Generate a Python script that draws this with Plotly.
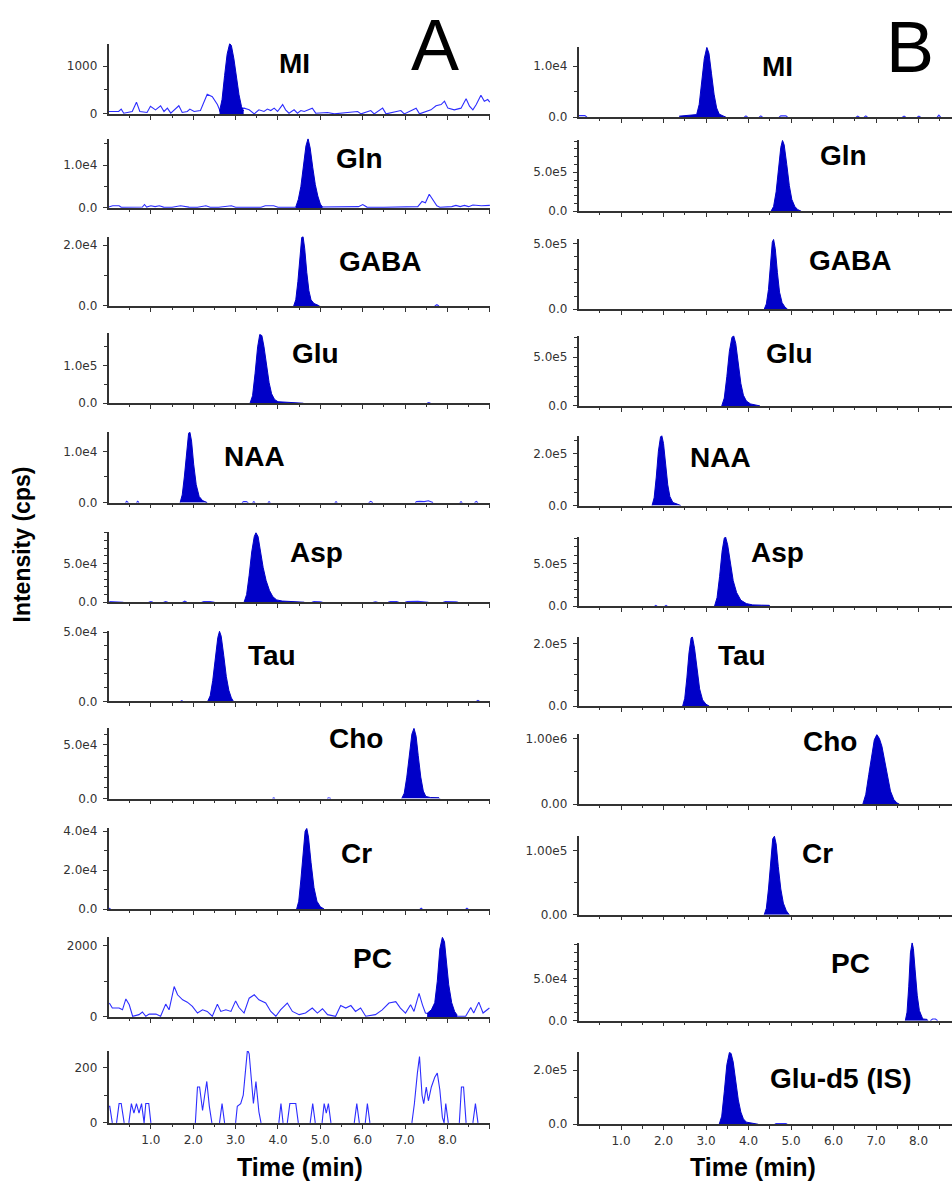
import plotly.graph_objects as go

W, H = 952, 1189

# ---------------- Panel A data: (time [min], intensity [cps]) ----------------
A_MI_peak = [(2.62, 50), (2.68, 300), (2.74, 800), (2.80, 1250), (2.86, 1470), (2.90, 1430),
             (2.96, 1150), (3.02, 750), (3.08, 400), (3.14, 150), (3.19, 60)]
A_MI_noise = [(0.01, 50), (0.13, 50), (0.24, 50), (0.30, 100), (0.36, 15), (0.56, 50), (0.66, 245),
              (0.74, 50), (0.91, 30), (0.99, 160), (1.11, 85), (1.23, 170), (1.31, 50), (1.39, 120),
              (1.47, 15), (1.66, 170), (1.74, 30), (1.86, 50), (1.92, 100), (2.02, 50), (2.17, 70),
              (2.33, 410), (2.45, 360), (2.57, 195), (2.63, 70), (3.20, 120), (3.32, 85), (3.44, 0),
              (3.55, 85), (3.67, 50), (3.75, 100), (3.83, 70), (3.91, 120), (3.99, 50), (4.11, 195),
              (4.18, 85), (4.26, 15), (4.38, 85), (4.46, 15), (4.54, 70), (4.62, 50), (4.81, 120),
              (4.89, 15), (5.17, 30), (5.33, 0), (5.64, 30), (5.88, 50), (5.96, 0), (6.19, 70),
              (6.27, 0), (6.47, 120), (6.55, 0), (6.90, 70), (6.98, 0), (7.26, 120), (7.34, 0),
              (7.61, 85), (7.73, 170), (7.85, 195), (7.93, 265), (8.01, 120), (8.16, 85), (8.32, 120),
              (8.44, 315), (8.52, 160), (8.60, 85), (8.68, 195), (8.79, 390), (8.87, 265), (8.95, 300),
              (9.00, 245)]

A_Gln_peak = [(4.42, 200), (4.48, 2000), (4.54, 5000), (4.60, 9500), (4.66, 14500), (4.71, 16200),
              (4.76, 14000), (4.82, 9500), (4.88, 5500), (4.94, 2800), (5.00, 900), (5.05, 200)]
A_Gln_noise = [(0.0, 200), (0.1, 500), (0.25, 500), (0.3, 150), (0.8, 200), (0.85, 800), (0.9, 200),
               (1.0, 500), (1.1, 300), (1.2, 500), (1.3, 200), (1.5, 150), (1.7, 500), (1.9, 200),
               (2.1, 150), (2.3, 500), (2.4, 150), (2.6, 150), (2.9, 500), (3.0, 150), (3.6, 150),
               (3.7, 500), (3.9, 500), (4.0, 150), (4.42, 150), (5.05, 200), (5.3, 150), (5.5, 300),
               (5.6, 150), (5.9, 300), (6.0, 800), (6.1, 200), (6.5, 150), (6.8, 200), (7.0, 150),
               (7.3, 300), (7.4, 1500), (7.48, 1200), (7.57, 3200), (7.65, 2000), (7.75, 500),
               (7.82, 150), (8.1, 300), (8.2, 600), (8.3, 300), (8.4, 600), (8.5, 300), (8.6, 700),
               (8.8, 500), (9.0, 600)]

A_GABA_peak = [(4.37, 0), (4.42, 2000), (4.47, 8000), (4.52, 17000), (4.56, 22500), (4.59, 23000),
               (4.63, 19000), (4.68, 11000), (4.73, 5000), (4.78, 2000), (4.85, 800), (4.95, 200),
               (4.98, 0)]
A_GABA_noise = [(7.70, 0), (7.75, 400), (7.80, 0)]

A_Glu_peak = [(3.34, 0), (3.40, 20000), (3.46, 80000), (3.52, 150000), (3.57, 183000), (3.62, 180000),
              (3.67, 150000), (3.73, 100000), (3.79, 55000), (3.85, 25000), (3.92, 10000), (4.0, 4000),
              (4.2, 2500), (4.4, 2000), (4.58, 1500), (4.6, 0)]
A_Glu_noise = [(7.52, 0), (7.56, 2000), (7.60, 0)]

A_NAA_peak = [(1.69, 0), (1.74, 1500), (1.79, 5000), (1.84, 10000), (1.89, 13500), (1.92, 13800),
              (1.96, 12000), (2.01, 7500), (2.07, 3500), (2.14, 1200), (2.22, 400), (2.33, 0)]
A_NAA_noise = [(0.40, 0), (0.43, 250), (0.47, 0), (0.66, 0), (0.69, 250), (0.72, 0), (3.15, 0),
               (3.19, 200), (3.25, 200), (3.3, 0), (3.4, 0), (3.43, 200), (3.46, 0), (3.76, 0),
               (3.79, 200), (3.82, 0), (5.34, 0), (5.37, 200), (5.40, 0), (6.14, 0), (6.19, 250),
               (6.24, 0), (7.24, 0), (7.27, 200), (7.35, 250), (7.45, 200), (7.55, 350), (7.62, 150),
               (7.66, 0), (8.29, 0), (8.32, 200), (8.35, 0), (8.64, 0), (8.68, 250), (8.72, 0)]

A_Asp_peak = [(3.20, 0), (3.26, 10000), (3.32, 35000), (3.38, 65000), (3.44, 85000), (3.48, 90000),
              (3.53, 85000), (3.59, 65000), (3.65, 45000), (3.72, 28000), (3.80, 15000), (3.88, 7000),
              (3.97, 3000), (4.1, 1500), (4.3, 800), (4.37, 1500), (4.45, 500), (4.6, 300), (4.62, 0)]
A_Asp_noise = [(0.02, 800), (0.1, 800), (0.2, 600), (0.3, 800), (0.35, 0), (0.95, 0), (1.0, 800),
               (1.05, 0), (1.3, 0), (1.35, 700), (1.4, 0), (1.75, 0), (1.8, 1300), (1.85, 0), (2.2, 0),
               (2.25, 700), (2.4, 800), (2.5, 0), (4.8, 0), (4.85, 800), (5.0, 600), (5.05, 0),
               (6.25, 0), (6.3, 600), (6.35, 0), (6.6, 0), (6.65, 900), (6.8, 800), (6.85, 0),
               (7.0, 0), (7.05, 800), (7.3, 1200), (7.5, 700), (7.55, 0), (7.9, 0), (7.95, 800),
               (8.2, 600), (8.25, 0)]

A_Tau_peak = [(2.34, 0), (2.40, 4000), (2.46, 15000), (2.52, 32000), (2.58, 46000), (2.62, 50500),
              (2.66, 47000), (2.72, 33000), (2.78, 18000), (2.84, 8000), (2.90, 2500), (2.95, 0)]
A_Tau_noise = [(1.70, 0), (1.73, 500), (1.76, 0), (8.68, 0), (8.72, 700), (8.76, 0)]

A_Cho_peak = [(6.92, 0), (6.98, 5000), (7.04, 20000), (7.10, 42000), (7.16, 60000), (7.21, 65500),
              (7.26, 58000), (7.31, 40000), (7.37, 20000), (7.43, 7000), (7.49, 2000), (7.6, 1000),
              (7.8, 800), (7.82, 0)]
A_Cho_noise = [(3.87, 0), (3.90, 600), (3.93, 0), (5.16, 0), (5.20, 800), (5.25, 0)]

A_Cr_peak = [(4.44, 0), (4.49, 4000), (4.54, 15000), (4.59, 30000), (4.64, 40000), (4.68, 41500),
             (4.72, 37000), (4.78, 24000), (4.85, 11000), (4.92, 4000), (5.00, 1200), (5.09, 0)]
A_Cr_noise = [(0.0, 500), (0.05, 0), (7.35, 0), (7.38, 500), (7.41, 0), (8.43, 0), (8.46, 500), (8.49, 0)]

A_PC_peak = [(7.52, 100), (7.62, 200), (7.70, 400), (7.76, 1000), (7.82, 1900), (7.88, 2230),
             (7.93, 2100), (7.98, 1500), (8.03, 900), (8.10, 400), (8.17, 150), (8.23, 50)]
A_PC_noise = [(0.02, 390), (0.09, 250), (0.25, 250), (0.33, 200), (0.41, 505), (0.49, 340), (0.57, 20),
              (0.72, 65), (0.80, 140), (0.88, 20), (0.96, 80), (1.12, 80), (1.23, 20), (1.35, 360),
              (1.43, 200), (1.55, 850), (1.63, 620), (1.75, 480), (1.86, 415), (1.98, 295), (2.10, 110),
              (2.22, 200), (2.33, 155), (2.45, 20), (2.57, 360), (2.65, 155), (2.77, 200), (2.89, 155),
              (3.00, 450), (3.08, 265), (3.20, 110), (3.32, 525), (3.44, 620), (3.55, 480), (3.71, 390),
              (3.83, 155), (3.95, 20), (4.06, 200), (4.22, 390), (4.34, 155), (4.50, 65), (4.65, 110),
              (4.81, 250), (4.93, 110), (5.05, 230), (5.17, 65), (5.36, 20), (5.48, 320), (5.60, 250),
              (5.72, 320), (5.83, 155), (5.95, 250), (6.07, 20), (6.30, 65), (6.46, 200), (6.62, 390),
              (6.78, 430), (6.89, 250), (7.01, 110), (7.13, 340), (7.21, 155), (7.33, 660), (7.41, 340),
              (7.48, 110), (7.52, 100), (8.23, 20), (8.43, 20), (8.55, 265), (8.62, 110), (8.74, 415),
              (8.84, 110), (8.94, 200), (8.99, 250)]

A_blank_noise = [(0.00, 60), (0.03, 60), (0.06, 30), (0.09, 0), (0.19, 0), (0.25, 70), (0.30, 70),
                 (0.37, 0), (0.48, 0), (0.54, 70), (0.60, 35), (0.66, 70), (0.72, 35), (0.78, 70),
                 (0.84, 0), (0.88, 70), (0.95, 70), (1.00, 0), (2.05, 0), (2.10, 130), (2.15, 130),
                 (2.22, 45), (2.27, 100), (2.32, 150), (2.38, 60), (2.44, 0), (2.62, 0), (2.68, 70),
                 (2.74, 0), (3.00, 0), (3.04, 60), (3.12, 70), (3.18, 100), (3.24, 200), (3.28, 265),
                 (3.32, 250), (3.38, 130), (3.42, 70), (3.48, 150), (3.55, 40), (3.60, 0), (4.02, 0),
                 (4.07, 70), (4.12, 0), (4.22, 0), (4.28, 70), (4.42, 70), (4.48, 0), (4.76, 0),
                 (4.82, 70), (4.88, 0), (5.04, 0), (5.09, 70), (5.14, 35), (5.19, 70), (5.25, 0),
                 (5.80, 0), (5.86, 70), (5.92, 0), (6.06, 0), (6.11, 70), (6.17, 0), (7.16, 0),
                 (7.22, 70), (7.29, 180), (7.34, 240), (7.40, 100), (7.44, 70), (7.50, 130), (7.55, 80),
                 (7.62, 130), (7.70, 165), (7.76, 180), (7.82, 120), (7.88, 20), (7.92, 0), (7.96, 70),
                 (8.02, 0), (8.28, 0), (8.33, 130), (8.38, 130), (8.44, 0), (8.60, 0), (8.66, 70),
                 (8.72, 0), (9.00, 0)]

# ---------------- Panel B data ----------------
B_MI_peak = [(2.37, 200), (2.50, 300), (2.65, 300), (2.78, 500), (2.84, 2500), (2.90, 7000),
             (2.96, 11500), (3.02, 13700), (3.07, 12500), (3.13, 8500), (3.19, 4500), (3.25, 1800),
             (3.31, 600), (3.40, 250), (3.47, 0)]
B_MI_noise = [(0, 300), (0.15, 300), (0.2, 0), (3.9, 0), (3.94, 250), (3.98, 0), (4.25, 0), (4.29, 250),
              (4.33, 0), (4.72, 0), (4.76, 250), (4.88, 250), (4.92, 0), (6.53, 0), (6.57, 200),
              (6.61, 0), (6.72, 0), (6.76, 250), (6.8, 0), (7.62, 0), (7.66, 200), (7.7, 0), (7.97, 0),
              (8.01, 200), (8.05, 0), (8.44, 0), (8.48, 400), (8.52, 0)]
B_Gln_peak = [(4.53, 0), (4.59, 60000), (4.65, 250000), (4.71, 550000), (4.76, 820000), (4.80, 910000),
              (4.84, 850000), (4.90, 600000), (4.96, 330000), (5.02, 150000), (5.09, 60000),
              (5.16, 20000), (5.24, 0)]
B_GABA_peak = [(4.37, 0), (4.42, 40000), (4.47, 150000), (4.52, 380000), (4.56, 510000), (4.59, 532000),
               (4.63, 460000), (4.68, 280000), (4.73, 130000), (4.79, 50000), (4.86, 15000), (4.92, 0)]
B_Glu_peak = [(3.37, 0), (3.43, 80000), (3.49, 300000), (3.55, 560000), (3.61, 700000), (3.65, 720000),
              (3.70, 640000), (3.76, 430000), (3.82, 230000), (3.88, 110000), (3.95, 50000),
              (4.05, 20000), (4.15, 12000), (4.25, 8000), (4.27, 0)]
B_NAA_peak = [(1.73, 0), (1.78, 30000), (1.83, 110000), (1.88, 210000), (1.93, 265000), (1.96, 270000),
              (2.00, 240000), (2.05, 160000), (2.10, 80000), (2.15, 35000), (2.22, 12000), (2.32, 6000),
              (2.41, 0)]
B_Asp_peak = [(3.20, 0), (3.26, 100000), (3.32, 350000), (3.38, 650000), (3.43, 800000), (3.46, 814000),
              (3.51, 720000), (3.57, 500000), (3.64, 300000), (3.72, 160000), (3.82, 70000),
              (3.95, 30000), (4.1, 15000), (4.3, 12000), (4.49, 10000), (4.5, 0)]
B_Asp_noise = [(1.79, 0), (1.82, 8000), (1.85, 0), (2.03, 0), (2.06, 10000), (2.09, 0)]
B_Tau_peak = [(2.45, 0), (2.50, 25000), (2.55, 90000), (2.60, 170000), (2.65, 218000), (2.68, 221000),
              (2.73, 185000), (2.79, 110000), (2.85, 55000), (2.92, 20000), (3.00, 6000), (3.08, 0)]
B_Cho_peak = [(6.69, 0), (6.76, 150000), (6.83, 450000), (6.90, 780000), (6.96, 980000), (7.02, 1060000),
              (7.08, 1000000), (7.14, 880000), (7.20, 680000), (7.27, 420000), (7.34, 200000),
              (7.42, 70000), (7.49, 20000), (7.55, 0)]
B_Cr_peak = [(4.37, 0), (4.42, 10000), (4.47, 40000), (4.52, 85000), (4.57, 118000), (4.61, 122000),
             (4.65, 110000), (4.70, 75000), (4.76, 40000), (4.82, 18000), (4.89, 6000), (4.96, 0)]
B_PC_peak = [(7.69, 0), (7.73, 10000), (7.77, 40000), (7.81, 80000), (7.85, 92000), (7.88, 85000),
             (7.92, 60000), (7.97, 30000), (8.02, 12000), (8.07, 5000), (8.10, 2000), (8.2, 1500),
             (8.22, 0)]
B_PC_noise = [(8.28, 0), (8.33, 2000), (8.40, 2000), (8.45, 0)]
B_GluD5_peak = [(3.31, 0), (3.37, 30000), (3.43, 120000), (3.49, 220000), (3.55, 265000), (3.59, 262000),
                (3.64, 230000), (3.70, 160000), (3.76, 90000), (3.82, 45000), (3.88, 20000),
                (3.95, 8000), (4.10, 4000), (4.22, 3000), (4.23, 0)]
B_GluD5_noise = [(4.62, 0), (4.65, 3000), (4.88, 3000), (4.91, 0)]

compounds_A = ["MI", "Gln", "GABA", "Glu", "NAA", "Asp", "Tau", "Cho", "Cr", "PC", ""]
compounds_B = ["MI", "Gln", "GABA", "Glu", "NAA", "Asp", "Tau", "Cho", "Cr", "PC", "Glu-d5 (IS)"]

A_peaks = [A_MI_peak, A_Gln_peak, A_GABA_peak, A_Glu_peak, A_NAA_peak, A_Asp_peak, A_Tau_peak,
           A_Cho_peak, A_Cr_peak, A_PC_peak, None]
A_noises = [A_MI_noise, A_Gln_noise, A_GABA_noise, A_Glu_noise, A_NAA_noise, A_Asp_noise, A_Tau_noise,
            A_Cho_noise, A_Cr_noise, A_PC_noise, A_blank_noise]
B_peaks = [B_MI_peak, B_Gln_peak, B_GABA_peak, B_Glu_peak, B_NAA_peak, B_Asp_peak, B_Tau_peak,
           B_Cho_peak, B_Cr_peak, B_PC_peak, B_GluD5_peak]
B_noises = [B_MI_noise, None, None, None, None, B_Asp_noise, None, None, None, B_PC_noise, B_GluD5_noise]

# tick values / labels
A_ytickvals = [[0, 1000], [0, 1e4], [0, 2e4], [0, 1e5], [0, 1e4], [0, 5e4], [0, 5e4], [0, 5e4],
               [0, 2e4, 4e4], [0, 2000], [0, 200]]
A_yticktext = [["0", "1000"], ["0.0", "1.0e4"], ["0.0", "2.0e4"], ["0.0", "1.0e5"], ["0.0", "1.0e4"],
               ["0.0", "5.0e4"], ["0.0", "5.0e4"], ["0.0", "5.0e4"], ["0.0", "2.0e4", "4.0e4"],
               ["0", "2000"], ["0", "200"]]
B_ytickvals = [[0, 1e4], [0, 5e5], [0, 5e5], [0, 5e5], [0, 2e5], [0, 5e5], [0, 2e5], [0, 1e6], [0, 1e5],
               [0, 5e4], [0, 2e5]]
B_yticktext = [["0.0", "1.0e4"], ["0.0", "5.0e5"], ["0.0", "5.0e5"], ["0.0", "5.0e5"], ["0.0", "2.0e5"],
               ["0.0", "5.0e5"], ["0.0", "2.0e5"], ["0.00", "1.00e6"], ["0.00", "1.00e5"],
               ["0.0", "5.0e4"], ["0.0", "2.0e5"]]
xtickvals = [1, 2, 3, 4, 5, 6, 7, 8, 9]
xticktext = ["1.0", "2.0", "3.0", "4.0", "5.0", "6.0", "7.0", "8.0", ""]

# ---------------- layout geometry (pixels) ----------------
A_top = [39, 135, 234, 331.7, 431.7, 532.7, 632, 730.7, 831.7, 941.7, 1056.7]
A_base = [110, 205, 304, 402.3, 502.7, 603.3, 703.5, 801.7, 913.3, 1022.3, 1129.3]
A_ymax = [1470, 1.62e4, 2.28e4, 1.86e5, 1.37e4, 9.05e4, 5.1e4, 6.54e4, 4.15e4, 2230, 260]
A_minor = [500, 5000, 1e4, 5e4, 5000, 1e4, 1e4, 1e4, 1e4, 1000, 100]
B_top = [42.7, 136.7, 236.7, 334, 435, 537.3, 638.3, 736.7, 839.3, 947.3, 1057.7]
B_base = [113.3, 208.3, 307.3, 405, 505.7, 607.3, 708.3, 807.3, 919, 1026, 1130.7]
B_ymax = [1.37e4, 9.1e5, 5.32e5, 7.2e5, 2.7e5, 8.14e5, 2.21e5, 1.065e6, 1.226e5, 9.2e4, 2.67e5]
B_minor = [5000, 1e5, 1e5, 1e5, 5e4, 1e5, 5e4, 5e5, 5e4, 1e4, 1e5]
A_x0, A_x1, A_xmax = 108.5, 490, 9.0
B_x0 = 578.5
B_pxmin = 42.5
B_xmax = (W - B_x0) / B_pxmin

A_label_xy = [(294, 59), (359, 155), (380, 259), (315, 352), (254, 456), (316, 553), (272, 657),
              (356, 741), (356, 857), (372, 963), None]
B_label_xy = [(777, 62), (843, 152), (850, 258), (789, 352), (720, 457), (777, 553), (742, 657),
              (830, 744), (817, 857), (850, 968), (841, 1084)]

FILL = "#0000c8"
NOISE = "#2d2dff"
AXC = "#333333"
TFONT = dict(family="DejaVu Sans, Verdana, sans-serif", size=12, color="#333333")
LFONT = "Arial, Liberation Sans, sans-serif"

fig = go.Figure()
layout = dict(width=W, height=H, margin=dict(l=0, r=0, t=0, b=0), showlegend=False,
              paper_bgcolor="white", plot_bgcolor="white")
annotations = []


def fx(px):
    return px / W


def fy(py):
    return 1 - py / H


def split_zero_runs(series):
    """Insert gaps between consecutive zero-intensity points so flat baseline stretches are not drawn."""
    xs, ys = [], []
    prev = None
    for t, v in series:
        if prev is not None and prev[1] == 0 and v == 0:
            xs.append(None)
            ys.append(None)
        xs.append(t)
        ys.append(v)
        prev = (t, v)
    return xs, ys


def add_panel(n, xdom, xmax, top, base, ymax, ytv, ytt, yminor, peak, noise, bottom):
    xa = "x" if n == 1 else f"x{n}"
    ya = "y" if n == 1 else f"y{n}"
    xkey = "xaxis" if n == 1 else f"xaxis{n}"
    ykey = "yaxis" if n == 1 else f"yaxis{n}"
    if noise is not None:
        t, v = split_zero_runs(noise)
        fig.add_trace(go.Scatter(x=t, y=v, mode="lines", xaxis=xa, yaxis=ya, connectgaps=False,
                                 line=dict(color=NOISE, width=1.1), hoverinfo="skip"))
    if peak is not None:
        t, v = zip(*peak)
        fig.add_trace(go.Scatter(x=list(t), y=list(v), mode="lines", xaxis=xa, yaxis=ya,
                                 fill="tozeroy", fillcolor=FILL,
                                 line=dict(color=FILL, width=1), hoverinfo="skip"))
    layout[xkey] = dict(domain=xdom, anchor=ya, range=[0, xmax], showgrid=False, zeroline=False,
                        showline=True, linecolor=AXC, linewidth=1.5, ticks="outside", ticklen=4,
                        tickwidth=1.2, tickcolor=AXC, tickmode="array", tickvals=xtickvals,
                        ticktext=xticktext, showticklabels=bottom, tickfont=TFONT,
                        ticklabelstandoff=1,
                        minor=dict(ticks="outside", ticklen=2.5, tickwidth=1, tickcolor=AXC,
                                   tickmode="linear", tick0=0.5, dtick=1.0),
                        fixedrange=True)
    layout[ykey] = dict(domain=[fy(base), fy(top)], anchor=xa, range=[0, ymax], showgrid=False,
                        zeroline=False, showline=True, linecolor=AXC, linewidth=1.5,
                        ticks="outside", ticklen=4, tickwidth=1.2, tickcolor=AXC,
                        tickmode="array", tickvals=ytv, ticktext=ytt, tickfont=TFONT,
                        ticklabelstandoff=3,
                        minor=dict(ticks="outside", ticklen=2.5, tickwidth=1, tickcolor=AXC,
                                   tickmode="linear", tick0=0, dtick=yminor),
                        fixedrange=True)


n = 1
for i in range(11):
    add_panel(n, [fx(A_x0), fx(A_x1)], A_xmax + 0.004, A_top[i], A_base[i], A_ymax[i],
              A_ytickvals[i], A_yticktext[i], A_minor[i], A_peaks[i], A_noises[i], i == 10)
    if compounds_A[i]:
        lx, ly = A_label_xy[i]
        annotations.append(dict(text=f"<b>{compounds_A[i]}</b>", x=fx(lx), y=fy(ly), xref="paper",
                                yref="paper", showarrow=False, xanchor="center", yanchor="middle",
                                font=dict(family=LFONT, size=28, color="black")))
    n += 1
for i in range(11):
    add_panel(n, [fx(B_x0), 1.0], B_xmax, B_top[i], B_base[i], B_ymax[i],
              B_ytickvals[i], B_yticktext[i], B_minor[i], B_peaks[i], B_noises[i], i == 10)
    lx, ly = B_label_xy[i]
    annotations.append(dict(text=f"<b>{compounds_B[i]}</b>", x=fx(lx), y=fy(ly), xref="paper",
                            yref="paper", showarrow=False, xanchor="center", yanchor="middle",
                            font=dict(family=LFONT, size=28, color="black")))
    n += 1

# panel letters
annotations.append(dict(text="A", x=fx(435), y=fy(40), xref="paper", yref="paper", showarrow=False,
                        xanchor="center", yanchor="middle", font=dict(family=LFONT, size=72, color="black")))
annotations.append(dict(text="B", x=fx(910), y=fy(42), xref="paper", yref="paper", showarrow=False,
                        xanchor="center", yanchor="middle", font=dict(family=LFONT, size=72, color="black")))
# axis titles
annotations.append(dict(text="<b>Intensity (cps)</b>", x=fx(22), y=fy(545), xref="paper", yref="paper",
                        showarrow=False, textangle=-90, xanchor="center", yanchor="middle",
                        font=dict(family=LFONT, size=23, color="black")))
annotations.append(dict(text="<b>Time (min)</b>", x=fx(300), y=fy(1174), xref="paper", yref="paper",
                        showarrow=False, xanchor="center", yanchor="middle",
                        font=dict(family=LFONT, size=25, color="black")))
annotations.append(dict(text="<b>Time (min)</b>", x=fx(753), y=fy(1174), xref="paper", yref="paper",
                        showarrow=False, xanchor="center", yanchor="middle",
                        font=dict(family=LFONT, size=25, color="black")))

layout["annotations"] = annotations
fig.update_layout(**layout)
fig.write_html("out.html", config={"displayModeBar": False},
               post_script="document.body.style.margin='0';document.body.style.overflow='hidden';")
